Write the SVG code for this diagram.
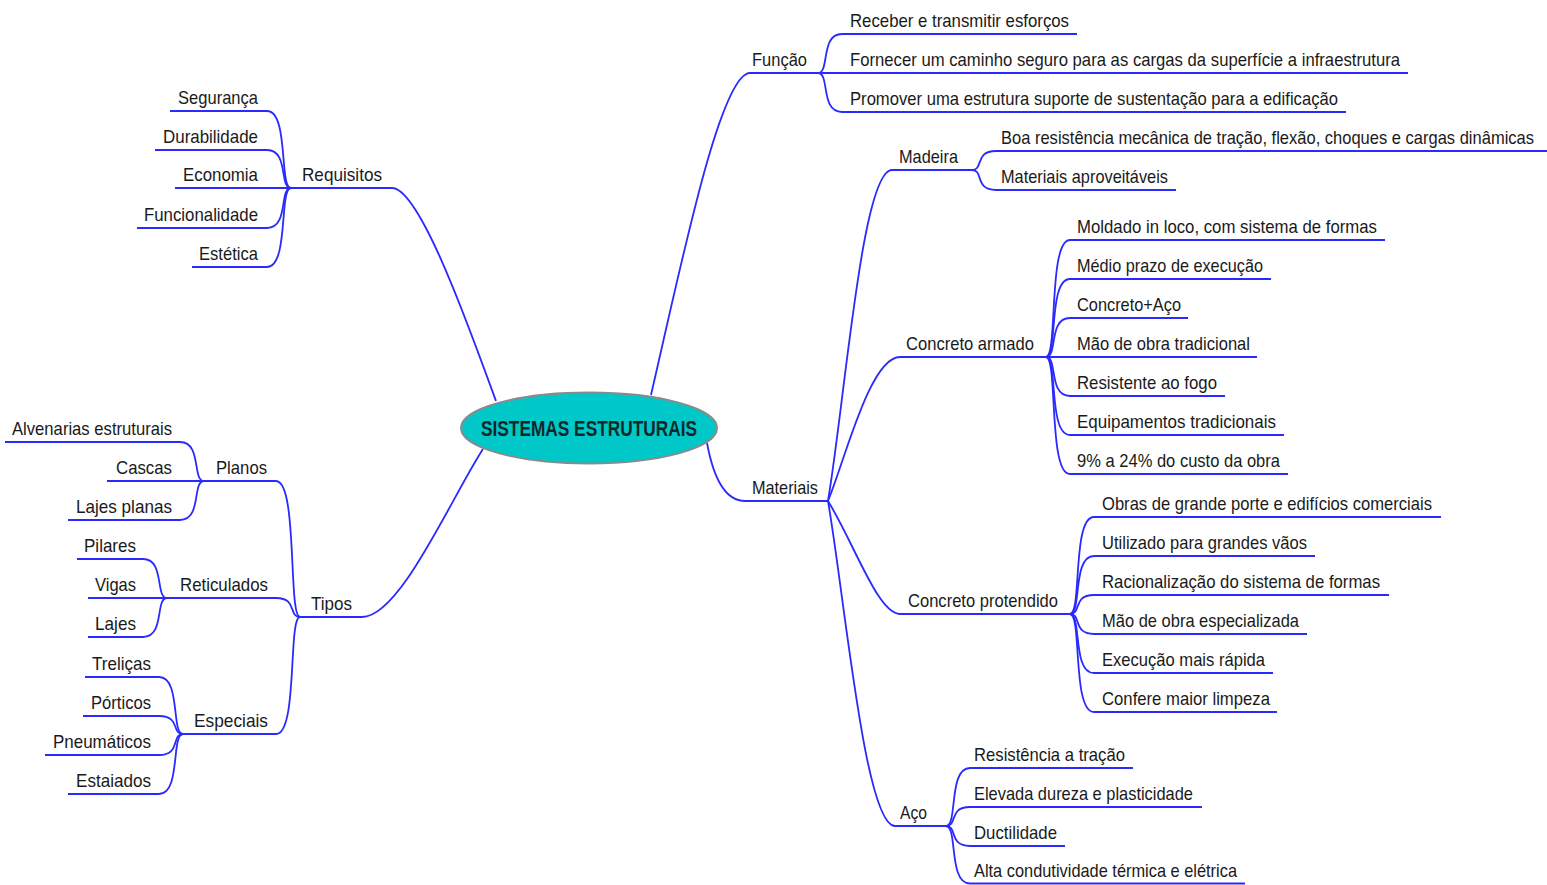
<svg xmlns="http://www.w3.org/2000/svg" width="1547" height="885" viewBox="0 0 1547 885">
<style>
.t{font-family:"Liberation Sans",Arial,sans-serif;font-size:19px;fill:#1a1a1a}
.c{fill:none;stroke:#2a2aff;stroke-width:1.8}
.root{font-family:"Liberation Sans",Arial,sans-serif;font-size:22px;font-weight:bold;fill:#102828}
</style>
<rect width="1547" height="885" fill="#ffffff"/>
<g id="connectors">
<path class="c" d="M496,401 C470,330 420,188 392,188 L291,188"/>
<path class="c" d="M291,188 C279,188 289,111 267,111 L170,111"/>
<path class="c" d="M291,188 C279,188 289,150 267,150 L155,150"/>
<path class="c" d="M291,188 L175,188"/>
<path class="c" d="M291,188 C279,188 289,228 267,228 L137,228"/>
<path class="c" d="M291,188 C279,188 289,267 267,267 L192,267"/>
<path class="c" d="M483,449 C450,500 400,617 362,617 L300,617"/>
<path class="c" d="M300,617 C288,617 298,481 276,481 L204,481"/>
<path class="c" d="M300,617 C288,617 298,598 276,598 L167,598"/>
<path class="c" d="M300,617 C288,617 298,734 276,734 L183,734"/>
<path class="c" d="M204,481 C192,481 202,442 180,442 L5,442"/>
<path class="c" d="M204,481 L107,481"/>
<path class="c" d="M204,481 C192,481 202,520 180,520 L68,520"/>
<path class="c" d="M167,598 C155,598 165,559 143,559 L77,559"/>
<path class="c" d="M167,598 L88,598"/>
<path class="c" d="M167,598 C155,598 165,637 143,637 L88,637"/>
<path class="c" d="M183,734 C171,734 181,677 159,677 L85,677"/>
<path class="c" d="M183,734 C171,734 181,716 159,716 L83,716"/>
<path class="c" d="M183,734 C171,734 181,755 159,755 L45,755"/>
<path class="c" d="M183,734 C171,734 181,794 159,794 L68,794"/>
<path class="c" d="M651,395 C680,270 720,73 750,73 L818,73"/>
<path class="c" d="M818,73 C830,73 820,34 842,34 L1077,34"/>
<path class="c" d="M818,73 L1408,73"/>
<path class="c" d="M818,73 C830,73 820,112 842,112 L1346,112"/>
<path class="c" d="M707,443 C712,470 722,501 745,501 L828,501"/>
<path class="c" d="M828,501 C845,400 862,170 892,170 L972,170"/>
<path class="c" d="M972,170 C984,170 974,151 996,151 L1547,151"/>
<path class="c" d="M972,170 C984,170 974,190 996,190 L1176,190"/>
<path class="c" d="M828,501 C845,460 870,357 900,357 L1046,357"/>
<path class="c" d="M1046,357 C1058,357 1048,240 1070,240 L1385,240"/>
<path class="c" d="M1046,357 C1058,357 1048,279 1070,279 L1271,279"/>
<path class="c" d="M1046,357 C1058,357 1048,318 1070,318 L1188,318"/>
<path class="c" d="M1046,357 L1257,357"/>
<path class="c" d="M1046,357 C1058,357 1048,396 1070,396 L1225,396"/>
<path class="c" d="M1046,357 C1058,357 1048,435 1070,435 L1284,435"/>
<path class="c" d="M1046,357 C1058,357 1048,474 1070,474 L1288,474"/>
<path class="c" d="M828,501 C855,545 878,614 900,614 L1070,614"/>
<path class="c" d="M1070,614 C1082,614 1072,517 1094,517 L1441,517"/>
<path class="c" d="M1070,614 C1082,614 1072,556 1094,556 L1315,556"/>
<path class="c" d="M1070,614 C1082,614 1072,595 1094,595 L1389,595"/>
<path class="c" d="M1070,614 C1082,614 1072,634 1094,634 L1307,634"/>
<path class="c" d="M1070,614 C1082,614 1072,673 1094,673 L1273,673"/>
<path class="c" d="M1070,614 C1082,614 1072,712 1094,712 L1277,712"/>
<path class="c" d="M828,501 C845,600 865,826 895,826 L946,826"/>
<path class="c" d="M946,826 C958,826 948,768 970,768 L1133,768"/>
<path class="c" d="M946,826 C958,826 948,807 970,807 L1202,807"/>
<path class="c" d="M946,826 C958,826 948,846 970,846 L1065,846"/>
<path class="c" d="M946,826 C958,826 948,883.5 970,883.5 L1245,883.5"/>
</g>
<g id="root">
<ellipse cx="589" cy="428" rx="128" ry="35.5" fill="#00c8c8" stroke="#8a8a8a" stroke-width="2"/>
<text class="root" x="481" y="436" textLength="216" lengthAdjust="spacingAndGlyphs">SISTEMAS ESTRUTURAIS</text>
</g>
<g id="n-requisitos"><text class="t" x="302" y="181" textLength="80" lengthAdjust="spacingAndGlyphs">Requisitos</text></g>
<g id="n-seguranca"><text class="t" x="178" y="104" textLength="80" lengthAdjust="spacingAndGlyphs">Segurança</text></g>
<g id="n-durabilidade"><text class="t" x="163" y="143" textLength="95" lengthAdjust="spacingAndGlyphs">Durabilidade</text></g>
<g id="n-economia"><text class="t" x="183" y="181" textLength="75" lengthAdjust="spacingAndGlyphs">Economia</text></g>
<g id="n-funcionalidade"><text class="t" x="144" y="221" textLength="114" lengthAdjust="spacingAndGlyphs">Funcionalidade</text></g>
<g id="n-estetica"><text class="t" x="199" y="260" textLength="59" lengthAdjust="spacingAndGlyphs">Estética</text></g>
<g id="n-tipos"><text class="t" x="311" y="610" textLength="41" lengthAdjust="spacingAndGlyphs">Tipos</text></g>
<g id="n-planos"><text class="t" x="216" y="474" textLength="51" lengthAdjust="spacingAndGlyphs">Planos</text></g>
<g id="n-alvenarias"><text class="t" x="12" y="435" textLength="160" lengthAdjust="spacingAndGlyphs">Alvenarias estruturais</text></g>
<g id="n-cascas"><text class="t" x="116" y="474" textLength="56" lengthAdjust="spacingAndGlyphs">Cascas</text></g>
<g id="n-lajes-planas"><text class="t" x="76" y="513" textLength="96" lengthAdjust="spacingAndGlyphs">Lajes planas</text></g>
<g id="n-reticulados"><text class="t" x="180" y="591" textLength="88" lengthAdjust="spacingAndGlyphs">Reticulados</text></g>
<g id="n-pilares"><text class="t" x="84" y="552" textLength="52" lengthAdjust="spacingAndGlyphs">Pilares</text></g>
<g id="n-vigas"><text class="t" x="95" y="591" textLength="41" lengthAdjust="spacingAndGlyphs">Vigas</text></g>
<g id="n-lajes"><text class="t" x="95" y="630" textLength="41" lengthAdjust="spacingAndGlyphs">Lajes</text></g>
<g id="n-especiais"><text class="t" x="194" y="727" textLength="74" lengthAdjust="spacingAndGlyphs">Especiais</text></g>
<g id="n-trelicas"><text class="t" x="92" y="670" textLength="59" lengthAdjust="spacingAndGlyphs">Treliças</text></g>
<g id="n-porticos"><text class="t" x="91" y="709" textLength="60" lengthAdjust="spacingAndGlyphs">Pórticos</text></g>
<g id="n-pneumaticos"><text class="t" x="53" y="748" textLength="98" lengthAdjust="spacingAndGlyphs">Pneumáticos</text></g>
<g id="n-estaiados"><text class="t" x="76" y="787" textLength="75" lengthAdjust="spacingAndGlyphs">Estaiados</text></g>
<g id="n-funcao"><text class="t" x="752" y="66" textLength="55" lengthAdjust="spacingAndGlyphs">Função</text></g>
<g id="n-receber"><text class="t" x="850" y="27" textLength="219" lengthAdjust="spacingAndGlyphs">Receber e transmitir esforços</text></g>
<g id="n-fornecer"><text class="t" x="850" y="66" textLength="550" lengthAdjust="spacingAndGlyphs">Fornecer um caminho seguro para as cargas da superfície a infraestrutura</text></g>
<g id="n-promover"><text class="t" x="850" y="105" textLength="488" lengthAdjust="spacingAndGlyphs">Promover uma estrutura suporte de sustentação para a edificação</text></g>
<g id="n-materiais"><text class="t" x="752" y="494" textLength="66" lengthAdjust="spacingAndGlyphs">Materiais</text></g>
<g id="n-madeira"><text class="t" x="899" y="163" textLength="59" lengthAdjust="spacingAndGlyphs">Madeira</text></g>
<g id="n-boa"><text class="t" x="1001" y="144" textLength="533" lengthAdjust="spacingAndGlyphs">Boa resistência mecânica de tração, flexão, choques e cargas dinâmicas</text></g>
<g id="n-aproveitaveis"><text class="t" x="1001" y="183" textLength="167" lengthAdjust="spacingAndGlyphs">Materiais aproveitáveis</text></g>
<g id="n-concreto-armado"><text class="t" x="906" y="350" textLength="128" lengthAdjust="spacingAndGlyphs">Concreto armado</text></g>
<g id="n-moldado"><text class="t" x="1077" y="233" textLength="300" lengthAdjust="spacingAndGlyphs">Moldado in loco, com sistema de formas</text></g>
<g id="n-medio"><text class="t" x="1077" y="272" textLength="186" lengthAdjust="spacingAndGlyphs">Médio prazo de execução</text></g>
<g id="n-concreto-aco"><text class="t" x="1077" y="311" textLength="104" lengthAdjust="spacingAndGlyphs">Concreto+Aço</text></g>
<g id="n-mao-tradicional"><text class="t" x="1077" y="350" textLength="173" lengthAdjust="spacingAndGlyphs">Mão de obra tradicional</text></g>
<g id="n-fogo"><text class="t" x="1077" y="389" textLength="140" lengthAdjust="spacingAndGlyphs">Resistente ao fogo</text></g>
<g id="n-equipamentos"><text class="t" x="1077" y="428" textLength="199" lengthAdjust="spacingAndGlyphs">Equipamentos tradicionais</text></g>
<g id="n-custo"><text class="t" x="1077" y="467" textLength="203" lengthAdjust="spacingAndGlyphs">9% a 24% do custo da obra</text></g>
<g id="n-concreto-protendido"><text class="t" x="908" y="607" textLength="150" lengthAdjust="spacingAndGlyphs">Concreto protendido</text></g>
<g id="n-obras"><text class="t" x="1102" y="510" textLength="330" lengthAdjust="spacingAndGlyphs">Obras de grande porte e edifícios comerciais</text></g>
<g id="n-utilizado"><text class="t" x="1102" y="549" textLength="205" lengthAdjust="spacingAndGlyphs">Utilizado para grandes vãos</text></g>
<g id="n-racionalizacao"><text class="t" x="1102" y="588" textLength="278" lengthAdjust="spacingAndGlyphs">Racionalização do sistema de formas</text></g>
<g id="n-mao-especializada"><text class="t" x="1102" y="627" textLength="197" lengthAdjust="spacingAndGlyphs">Mão de obra especializada</text></g>
<g id="n-execucao"><text class="t" x="1102" y="666" textLength="163" lengthAdjust="spacingAndGlyphs">Execução mais rápida</text></g>
<g id="n-limpeza"><text class="t" x="1102" y="705" textLength="168" lengthAdjust="spacingAndGlyphs">Confere maior limpeza</text></g>
<g id="n-aco"><text class="t" x="900" y="819" textLength="27" lengthAdjust="spacingAndGlyphs">Aço</text></g>
<g id="n-tracao"><text class="t" x="974" y="761" textLength="151" lengthAdjust="spacingAndGlyphs">Resistência a tração</text></g>
<g id="n-dureza"><text class="t" x="974" y="800" textLength="219" lengthAdjust="spacingAndGlyphs">Elevada dureza e plasticidade</text></g>
<g id="n-ductilidade"><text class="t" x="974" y="839" textLength="83" lengthAdjust="spacingAndGlyphs">Ductilidade</text></g>
<g id="n-condutividade"><text class="t" x="974" y="877" textLength="263" lengthAdjust="spacingAndGlyphs">Alta condutividade térmica e elétrica</text></g>
</svg>
